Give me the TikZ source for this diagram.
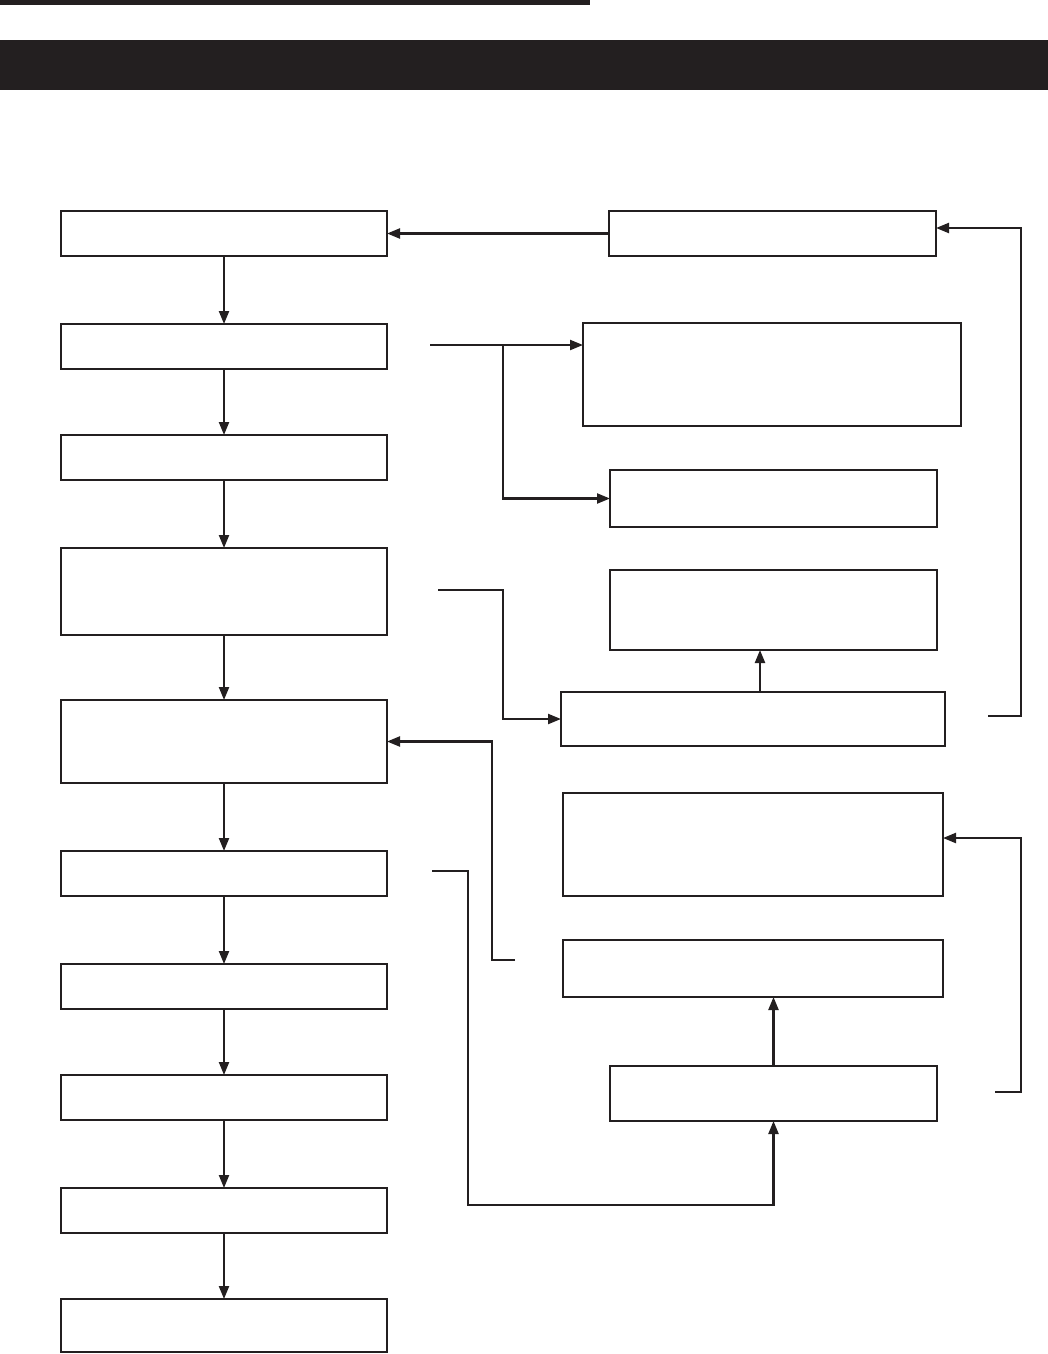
\documentclass[tikz,border=0pt]{standalone}
\usetikzlibrary{arrows.meta}
\definecolor{ink}{HTML}{231F20}
\begin{document}
\begin{tikzpicture}[x=1pt,y=-1pt,
  box/.style={draw=ink,line width=2.4pt,inner sep=0pt,outer sep=0pt,rectangle},
  conn/.style={draw=ink,line width=2.2pt},
  arr/.style={conn,-{Triangle[length=13pt,width=10pt]}}]
\useasboundingbox (0,0) rectangle (1048,1354);
\fill[ink] (0,0) rectangle (590,5);
\fill[ink] (0,40) rectangle (1048,90);
% left column
\node[box,minimum width=326pt,minimum height=45pt] (L1) at (224,233.5) {};
\node[box,minimum width=326pt,minimum height=45pt] (L2) at (224,346.5) {};
\node[box,minimum width=326pt,minimum height=45pt] (L3) at (224,457.5) {};
\node[box,minimum width=326pt,minimum height=87pt] (L4) at (224,591.5) {};
\node[box,minimum width=326pt,minimum height=83pt] (L5) at (224,741.5) {};
\node[box,minimum width=326pt,minimum height=45pt] (L6) at (224,873.5) {};
\node[box,minimum width=326pt,minimum height=45pt] (L7) at (224,986.5) {};
\node[box,minimum width=326pt,minimum height=45pt] (L8) at (224,1097.5) {};
\node[box,minimum width=326pt,minimum height=45pt] (L9) at (224,1210.5) {};
\node[box,minimum width=326pt,minimum height=53pt] (L10) at (224,1325.5) {};
% right column
\node[box,minimum width=327pt,minimum height=45pt] (R1) at (772.5,233.5) {};
\node[box,minimum width=378pt,minimum height=103pt] (R2) at (772,374.5) {};
\node[box,minimum width=327pt,minimum height=57pt] (R3) at (773.5,498.5) {};
\node[box,minimum width=327pt,minimum height=80pt] (R4) at (773.5,610) {};
\node[box,minimum width=384pt,minimum height=54pt] (R5) at (753,719) {};
\node[box,minimum width=380pt,minimum height=103pt] (R6) at (753,844.5) {};
\node[box,minimum width=380pt,minimum height=57pt] (R7) at (753,968.5) {};
\node[box,minimum width=327pt,minimum height=55pt] (R8) at (773.5,1093.5) {};
% left chain
\foreach \a/\b in {L1/L2,L2/L3,L3/L4,L4/L5,L5/L6,L6/L7,L7/L8,L8/L9,L9/L10}
  \draw[arr] (\a.south) -- (\b.north);
% right connections
\draw[arr] (R1.west) -- (L1.east);
\coordinate (c1) at (430,345);
\coordinate (b1) at (503,345);
\draw[arr] (c1) -- (R2.west |- c1);
\draw[arr] (b1) |- (R3.west);
\coordinate (c2) at (438,590);
\draw[arr] (c2) -- (503,590) |- (R5.west);
\coordinate (u1) at (760,0);
\draw[arr] (R5.north -| u1) -- (R4.south -| u1);
\coordinate (c3) at (988,716);
\draw[arr] (c3) -- (1021,716) |- ([yshift=5.5pt]R1.east);
\coordinate (c4) at (515,960);
\draw[arr] (c4) -- (492,960) |- (L5.east);
\coordinate (c5) at (432,871);
\draw[arr] (c5) -- (468,871) -- (468,1205) -| (R8.south);
\draw[arr] (R8.north) -- (R7.south -| R8.north);
\coordinate (c6) at (995,1092);
\draw[arr] (c6) -- (1021,1092) |- ([yshift=6.5pt]R6.east);
\end{tikzpicture}
\end{document}
